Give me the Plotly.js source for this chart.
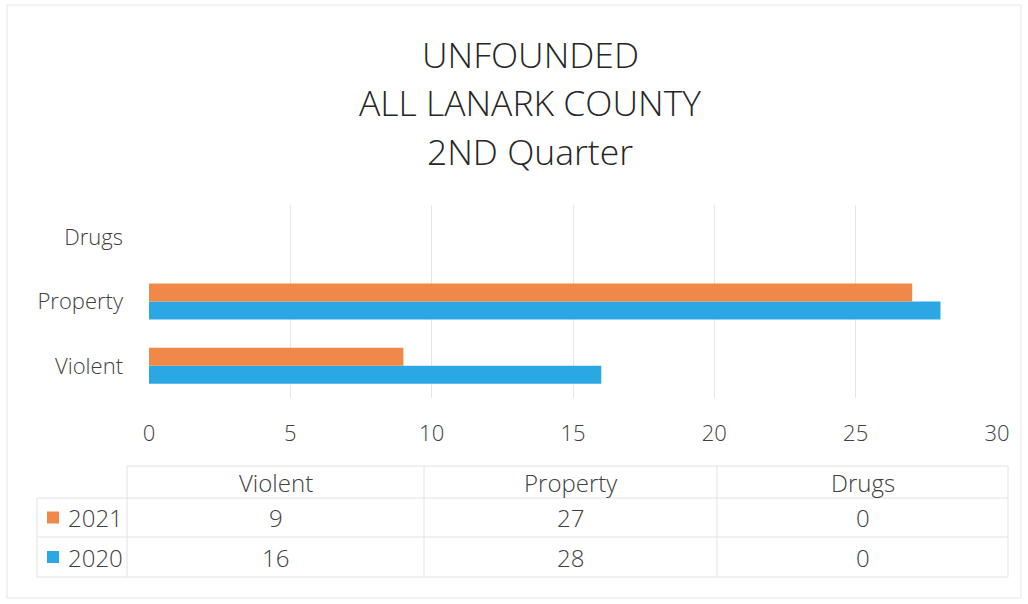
<!DOCTYPE html>
<html>
<head>
<meta charset="utf-8">
<script src="https://cdn.plot.ly/plotly-3.0.1.min.js"></script>
<style>
  html, body { margin: 0; padding: 0; background: #ffffff; }
  #chart { width: 1028px; height: 604px; }
</style>
</head>
<body>
<div id="chart"></div>
<script>
// ---- data ----
const categories = ['Violent', 'Property', 'Drugs'];
const seriesNames = ['2021', '2020'];
const values2021 = [9, 27, 0];
const values2020 = [16, 28, 0];
const xTicks = [0, 5, 10, 15, 20, 25, 30];
const titleLines = ['UNFOUNDED', 'ALL LANARK COUNTY', '2ND Quarter'];

// ---- style ----
const orange = '#EF8848';
const blue = '#2BA7E4';
const textColor = '#404040';
const gridColor = '#e6e6e6';
const tableLine = '#e2e2e2';
const font = 'Open Sans, DejaVu Sans, sans-serif';

// plot area in pixels
const W = 1028, H = 604;
const PL = 149, PR = 997, PT = 205, PB = 398;
const px = x => (x - PL) / (PR - PL);
const py = y => (PB - y) / (PB - PT);

const traces = [
  { type: 'bar', orientation: 'h', name: seriesNames[1], y: categories, x: values2020,
    marker: { color: blue }, hoverinfo: 'x+name' },
  { type: 'bar', orientation: 'h', name: seriesNames[0], y: categories, x: values2021,
    marker: { color: orange }, hoverinfo: 'x+name' }
];

const annotations = [];
const shapes = [];

// title lines
const titleY = [54, 102, 151];
titleLines.forEach((t, i) => {
  annotations.push({ text: t, xref: 'paper', yref: 'paper', x: px(530), y: py(titleY[i]),
    xanchor: 'center', yanchor: 'middle', showarrow: false,
    font: { family: font, size: 35.5, weight: 300, color: '#262626' } });
});

// chart border
shapes.push({ type: 'rect', xref: 'paper', yref: 'paper', x0: px(7), x1: px(1021), y0: py(5), y1: py(598),
  line: { color: '#e6e6e6', width: 1 }, fillcolor: 'rgba(0,0,0,0)' });

// data table
const colX = [127, 424, 717, 1008];
const rowY = [466, 498, 537, 577];
const legL = 37;
const lineStyle = { color: tableLine, width: 1 };
// horizontal lines
shapes.push({ type: 'line', xref: 'paper', yref: 'paper', x0: px(colX[0]), x1: px(colX[3]), y0: py(rowY[0]), y1: py(rowY[0]), line: lineStyle });
for (let r = 1; r < rowY.length; r++) {
  shapes.push({ type: 'line', xref: 'paper', yref: 'paper', x0: px(legL), x1: px(colX[3]), y0: py(rowY[r]), y1: py(rowY[r]), line: lineStyle });
}
// vertical lines
shapes.push({ type: 'line', xref: 'paper', yref: 'paper', x0: px(legL), x1: px(legL), y0: py(rowY[1]), y1: py(rowY[3]), line: lineStyle });
colX.forEach(cx => {
  shapes.push({ type: 'line', xref: 'paper', yref: 'paper', x0: px(cx), x1: px(cx), y0: py(rowY[0]), y1: py(rowY[3]), line: lineStyle });
});

const tFont = { family: font, size: 24, weight: 300, color: textColor };
// header
categories.forEach((c, i) => {
  annotations.push({ text: c, xref: 'paper', yref: 'paper', x: px((colX[i] + colX[i + 1]) / 2),
    y: py((rowY[0] + rowY[1]) / 2), xanchor: 'center', yanchor: 'middle', showarrow: false, font: tFont });
});
// rows
const rows = [[seriesNames[0], values2021, orange], [seriesNames[1], values2020, blue]];
rows.forEach((row, r) => {
  const yc = (rowY[r + 1] + rowY[r + 2]) / 2;
  shapes.push({ type: 'rect', xref: 'paper', yref: 'paper', x0: px(47), x1: px(59), y0: py(yc - 6), y1: py(yc + 6),
    line: { width: 0 }, fillcolor: row[2] });
  annotations.push({ text: row[0], xref: 'paper', yref: 'paper', x: px(66), y: py(yc),
    xanchor: 'left', yanchor: 'middle', showarrow: false, font: tFont });
  row[1].forEach((v, i) => {
    annotations.push({ text: String(v), xref: 'paper', yref: 'paper', x: px((colX[i] + colX[i + 1]) / 2),
      y: py(yc), xanchor: 'center', yanchor: 'middle', showarrow: false, font: tFont });
  });
});

const layout = {
  width: W, height: H,
  margin: { l: PL, r: W - PR, t: PT, b: H - PB, pad: 0 },
  paper_bgcolor: '#ffffff', plot_bgcolor: '#ffffff',
  barmode: 'group', bargap: 0.44, bargroupgap: 0,
  showlegend: false,
  font: { family: font, color: textColor },
  xaxis: {
    range: [0, 30], tickvals: xTicks, ticktext: xTicks.map(String),
    showgrid: true, gridcolor: gridColor, gridwidth: 1,
    zeroline: false, showline: false, ticks: '',
    ticklabelstandoff: 20,
    tickfont: { family: font, size: 22, weight: 300, color: textColor },
    fixedrange: true
  },
  yaxis: {
    type: 'category', categoryorder: 'array', categoryarray: categories,
    showgrid: false, zeroline: false, showline: false, ticks: '',
    ticklabelstandoff: 25,
    tickfont: { family: font, size: 22, weight: 300, color: textColor },
    fixedrange: true
  },
  shapes: shapes,
  annotations: annotations
};

Plotly.newPlot('chart', traces, layout, { displayModeBar: false, staticPlot: true });
</script>
</body>
</html>
